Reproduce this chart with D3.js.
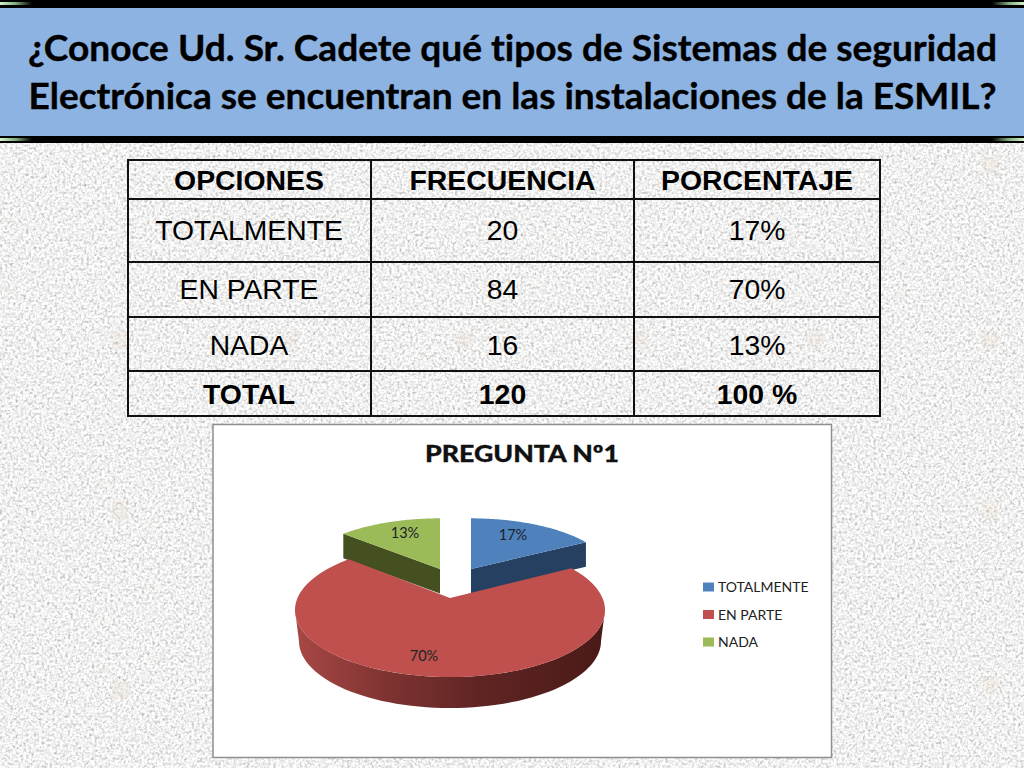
<!DOCTYPE html>
<html><head><meta charset="utf-8">
<script src="https://cdnjs.cloudflare.com/ajax/libs/d3/7.8.5/d3.min.js"></script>
<style>html,body{margin:0;padding:0;background:#fff}svg{display:block}text{font-variant-ligatures:none}</style></head>
<body><svg id="c" width="1024" height="768"></svg>
<script>
const titleLines = ["¿Conoce Ud. Sr. Cadete qué tipos de Sistemas de seguridad","Electrónica se encuentran en las instalaciones de la ESMIL?"];
const tableHeader = ["OPCIONES","FRECUENCIA","PORCENTAJE"];
const categories = ["TOTALMENTE","EN PARTE","NADA"];
const frequencies = [20,84,16];
const percentages = ["17%","70%","13%"];
const totalRow = ["TOTAL","120","100 %"];
const chartTitle = "PREGUNTA Nº1";
const topColors = ["#4f81bd","#c0504d","#9bbb59"];
const sideColors = ["#254061","#7a2f2d","#44501f"];

const svg = d3.select("#c");
const defs = svg.append("defs");

// granite background
const f = defs.append("filter").attr("id","granite").attr("x",0).attr("y",0).attr("width","100%").attr("height","100%");
f.append("feTurbulence").attr("type","fractalNoise").attr("baseFrequency",0.38).attr("numOctaves",3).attr("seed",4).attr("result","n");
f.append("feColorMatrix").attr("in","n").attr("type","matrix")
 .attr("values","0.7 0.7 0 0 0.17  0.7 0.7 0 0 0.17  0.7 0.7 0 0 0.165  0 0 0 0 1");
svg.append("rect").attr("width",1024).attr("height",768).attr("fill","#e0e0de").attr("filter","url(#granite)");

// faint repeating ornaments of the slide background
const ornaments = [[120,340],[290,340],[465,340],[640,340],[815,340],[990,165],[990,340],[990,510],[990,685],[120,690],[120,510]];
svg.selectAll("rect.o").data(ornaments).join("rect").attr("class","o")
  .attr("x",d=>d[0]-8).attr("y",d=>d[1]-9).attr("width",16).attr("height",18).attr("rx",3)
  .attr("fill","#e8d8c8").attr("opacity",0.25);

// header band
svg.append("rect").attr("x",0).attr("y",0).attr("width",1024).attr("height",143).attr("fill","#000");
svg.append("rect").attr("x",0).attr("y",8).attr("width",1024).attr("height",128).attr("fill","#8db3e2");
const glow = defs.append("linearGradient").attr("id","glow");
glow.append("stop").attr("offset",0).attr("stop-color","#d8f0d0");
glow.append("stop").attr("offset",0.5).attr("stop-color","#7fa878");
glow.append("stop").attr("offset",1).attr("stop-color","#000");
const glowR = defs.append("linearGradient").attr("id","glowR");
glowR.append("stop").attr("offset",0).attr("stop-color","#000");
glowR.append("stop").attr("offset",0.5).attr("stop-color","#7fa878");
glowR.append("stop").attr("offset",1).attr("stop-color","#d8f0d0");
[[2,3],[138,3]].forEach(([y,h])=>{
  svg.append("rect").attr("x",0).attr("y",y).attr("width",32).attr("height",h).attr("fill","url(#glow)");
  svg.append("rect").attr("x",992).attr("y",y).attr("width",32).attr("height",h).attr("fill","url(#glowR)");
});
svg.selectAll("text.t").data(titleLines).join("text").attr("class","t")
  .attr("x",512.5).attr("y",(d,i)=>61+i*48).attr("text-anchor","middle")
  .attr("font-family","Lato").attr("font-weight",700).attr("font-size",36.5).attr("fill","#000")
  .attr("stroke","#000").attr("stroke-width",0.4)
  .attr("textLength",(d,i)=>i==0?969:968).attr("lengthAdjust","spacingAndGlyphs").text(d=>d);

// table
const colX = d3.scaleOrdinal().domain([0,1,2,3]).range([128,371,634,880]);
const rowEdges = [160,199,262,317,371,416];
const rows = [tableHeader, ...categories.map((c,i)=>[c,String(frequencies[i]),percentages[i]]), totalRow];
const tbl = svg.append("g");
rowEdges.forEach(y=>tbl.append("line").attr("x1",127).attr("x2",881).attr("y1",y).attr("y2",y).attr("stroke","#111").attr("stroke-width",2));
[0,1,2,3].forEach(i=>tbl.append("line").attr("x1",colX(i)).attr("x2",colX(i)).attr("y1",159).attr("y2",417).attr("stroke","#111").attr("stroke-width",2));
const rowBase = [190,240,299,355,404];
rows.forEach((r,ri)=>r.forEach((t,ci)=>{
  const bold = ri==0||ri==4;
  tbl.append("text").attr("x",(colX(ci)+colX(ci+1))/2-(ci==0?0.5:0)).attr("y",rowBase[ri]).attr("text-anchor","middle")
   .attr("font-family","Liberation Sans").attr("font-size",bold?28.4:28.3).attr("font-weight",bold?700:400).attr("fill","#000").text(t);
}));

// chart box
const chart = svg.append("g");
chart.append("rect").attr("x",213).attr("y",424.5).attr("width",618.5).attr("height",333).attr("fill","#fff").attr("stroke","#8f8f8f").attr("stroke-width",1.5);
chart.append("text").attr("x",522).attr("y",462).attr("text-anchor","middle").attr("font-family","Lato").attr("font-weight",900)
  .attr("font-size",23.5).attr("fill","#111").attr("stroke","#111").attr("stroke-width",0.3).attr("textLength",194).attr("lengthAdjust","spacingAndGlyphs").text(chartTitle);

// 3D pie: d3.pie gives the angles, a perspective projection places them
const arcs = d3.pie().sort(null)(frequencies);
const project = (g,t)=>{
  const w = 1 + g.k*Math.cos(t);
  return [g.cx + g.a*Math.sin(t)/w, g.cy - g.b*Math.cos(t)/w];
};
const line = d3.line();
const samples = (a,b,n=64)=>d3.range(n+1).map(i=>a+(b-a)*i/n);
const redTop = {cx:450,cy:598,a:152.5,b:64.9,k:0.179};
const redBottom = {cx:450,cy:629,a:148.6,b:64.9,k:0.179};
const ex = [{cx:471,cy:569,a:141,b:57,k:0.125},null,{cx:440,cy:569,a:141,b:57,k:0.125}];
const depth = 24.5;
const shift = (p,dy)=>[p[0],p[1]+dy];

[0,2].forEach(i=>{
  const a=arcs[i], g=ex[i];
  const edge = samples(a.startAngle,a.endAngle).map(t=>project(g,t));
  const apex=[g.cx,g.cy];
  const outer = i==0 ? project(g,a.endAngle) : project(g,a.startAngle);
  chart.append("path").attr("d",line([apex,outer,shift(outer,depth),shift(apex,depth)])+"Z").attr("fill",sideColors[i]);
  chart.append("path").attr("d",line([apex,...edge])+"Z").attr("fill",topColors[i]);
});

// red rim with horizontal gradient
const rim = defs.append("linearGradient").attr("id","rim").attr("gradientUnits","userSpaceOnUse")
  .attr("x1",295).attr("x2",605).attr("y1",0).attr("y2",0);
[[0,"#a84846"],[0.3,"#7e3331"],[0.6,"#5f2523"],[1,"#4a1a18"]].forEach(([o,c])=>rim.append("stop").attr("offset",o).attr("stop-color",c));
const silhouette = Math.acos(-redTop.k);
const rA=silhouette, rB=2*Math.PI-silhouette;
const rimPts=[...samples(rA,rB).map(t=>project(redTop,t)),...samples(rB,rA).map(t=>project(redBottom,t))];
chart.append("path").attr("d",line(rimPts)+"Z").attr("fill","url(#rim)");
const ra=arcs[1];
chart.append("path").attr("d",line([[redTop.cx,redTop.cy],...samples(ra.startAngle,ra.endAngle,160).map(t=>project(redTop,t))])+"Z").attr("fill",topColors[1]);

// slice labels
const labelPos=[[513,540],[424,661],[405,538]];
percentages.forEach((p,i)=>chart.append("text").attr("x",labelPos[i][0]).attr("y",labelPos[i][1]).attr("text-anchor","middle")
  .attr("font-family","Lato").attr("font-size",14.5).attr("fill","#1a2426").text(p));

// legend
const legendY=d3.scalePoint().domain(categories).range([587,642]);
categories.forEach((c,i)=>{
  chart.append("rect").attr("x",703).attr("y",legendY(c)-4.5).attr("width",11).attr("height",9).attr("fill",topColors[i]);
  chart.append("text").attr("x",718).attr("y",legendY(c)+5).attr("font-family","Lato").attr("font-size",14).attr("fill","#222").text(c);
});
</script></body></html>
